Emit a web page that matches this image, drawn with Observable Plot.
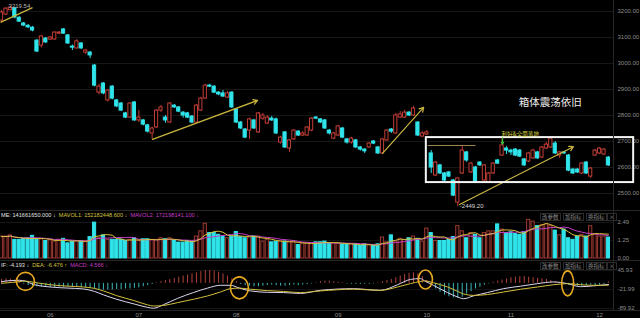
<!DOCTYPE html>
<html><head><meta charset="utf-8">
<script src="https://cdn.jsdelivr.net/npm/d3@7"></script>
<script src="https://cdn.jsdelivr.net/npm/@observablehq/plot@0.6"></script>
<style>
body{margin:0;background:#000;}
#wrap{position:relative;width:640px;height:318px;overflow:hidden;background:#000;font-family:"Liberation Sans",Arial,sans-serif;}
.panel{position:absolute;left:0;}
.lg{position:absolute;left:1px;font-size:5.6px;white-space:nowrap;line-height:7px;}
.btn{position:absolute;font-family:"Noto Sans CJK SC";font-size:5.5px;color:#8a8a8a;border:1px solid #2c2c2c;line-height:6px;padding:0 1px;white-space:nowrap;}
.sep{position:absolute;background:#262626;}
</style></head><body><div id="wrap"></div>
<script>
// ---------- data ----------
const opens = [3165,3188,3205,3212,3176,3154,3145,3138,3088,3069,
3096,3092,3092,3115,3131,3108,3065,3058,3077,3042,
3042,2992,2888,2923,2858,2911,2858,2846,2808,2792,
2850,2781,2781,2762,2731,2754,2819,2792,2773,2838,
2831,2811,2808,2796,2773,2819,2865,2915,2911,2888,
2885,2869,2888,2823,2773,2746,2742,2781,2735,2788,
2769,2788,2785,2696,2735,2673,2708,2738,2723,2723,
2742,2792,2785,2781,2742,2711,2723,2750,2708,2696,
2704,2677,2669,2677,2700,2677,2654,2704,2746,2731,
2792,2792,2811,2800,2773,2719,2727,2654,2569,2608,
2577,2581,2550,2465,2577,2658,2581,2600,2619,2550,
2542,2577,2627,2646,2673,2665,2669,2665,2631,2623,
2635,2658,2638,2673,2677,2692,2646,2658,2646,2592,
2592,2577,2619,2565,2646,2654,2650,2638];
const highs = [3204,3215,3219.54,3216,3180,3158,3150,3142,3092,3108,
3100,3104,3122,3123,3134,3111,3071,3092,3080,3054,
3046,2996,2920,2927,2900,2915,2862,2850,2812,2850,
2854,2819,2785,2766,2755,2823,2838,2800,2850,2842,
2834,2815,2812,2800,2842,2870,2920,2920,2915,2892,
2896,2892,2892,2827,2777,2750,2790,2785,2812,2808,
2800,2796,2790,2720,2738,2708,2746,2742,2738,2758,
2792,2796,2788,2785,2746,2735,2762,2754,2712,2716,
2708,2681,2673,2696,2704,2681,2712,2746,2750,2808,
2815,2820,2815,2835,2777,2738,2742,2665,2623,2612,
2581,2585,2554,2562,2685,2662,2620,2604,2623,2612,
2581,2619,2631,2711,2680,2670,2673,2669,2635,2658,
2670,2662,2681,2696,2716,2700,2662,2662,2650,2596,
2596,2619,2623,2600,2670,2677,2673,2642];
const lows = [3157,3184,3203,3172,3158,3142,3134,3122,3042,3060,
3077,3088,3090,3111,3112,3073,3050,3055,3054,3035,
3019,2910,2880,2880,2852,2860,2830,2815,2788,2788,
2777,2773,2760,2733,2708,2750,2812,2770,2770,2827,
2811,2790,2788,2768,2770,2815,2862,2907,2884,2876,
2869,2865,2827,2769,2746,2711,2708,2746,2731,2781,
2765,2777,2727,2690,2673,2658,2704,2719,2719,2719,
2738,2784,2769,2746,2725,2707,2719,2711,2690,2690,
2673,2663,2654,2673,2688,2650,2650,2700,2731,2727,
2788,2788,2796,2796,2719,2715,2723,2577,2565,2573,
2546,2561,2488,2449.2,2573,2620,2577,2538,2604,2546,
2538,2573,2612,2642,2650,2646,2642,2638,2604,2619,
2631,2631,2635,2669,2673,2650,2635,2650,2584,2573,
2577,2573,2573,2558,2642,2650,2646,2604];
const closes = [3196,3211,3215,3177,3161,3146,3139,3127,3046,3104,
3081,3100,3119,3119,3115,3077,3061,3085,3058,3050,
3031,2915,2911,2885,2896,2865,2835,2819,2792,2846,
2781,2792,2765,2738,2750,2819,2831,2781,2846,2831,
2815,2800,2792,2773,2838,2865,2915,2911,2888,2881,
2873,2885,2831,2773,2750,2715,2785,2750,2808,2800,
2792,2781,2731,2715,2677,2704,2742,2723,2731,2754,
2788,2788,2773,2750,2731,2731,2758,2715,2696,2711,
2677,2669,2662,2692,2692,2654,2708,2742,2738,2800,
2804,2811,2800,2827,2723,2731,2735,2600,2619,2577,
2550,2565,2492,2558,2665,2627,2615,2542,2608,2608,
2577,2615,2615,2685,2665,2658,2646,2642,2608,2654,
2665,2635,2677,2688,2711,2654,2658,2654,2588,2577,
2581,2615,2577,2596,2665,2673,2669,2608];
// volume, in units of 1e8
const volumes = [1.52,1.52,1.60,1.29,1.29,1.36,1.40,1.57,1.29,1.33,
1.21,1.26,1.17,1.29,1.36,1.05,1.17,1.21,1.21,1.21,
1.48,2.48,1.40,1.60,1.29,1.29,1.29,1.29,1.21,1.29,
1.40,1.21,1.33,1.33,1.29,1.29,1.40,1.33,1.40,1.21,
1.10,1.10,1.21,1.17,1.52,1.88,2.40,1.76,1.76,1.64,
1.52,1.40,1.52,1.83,1.48,1.40,1.45,1.52,1.52,1.17,
1.29,1.12,1.17,1.21,1.17,1.12,1.12,0.93,1.05,1.05,
1.05,1.12,1.12,1.17,1.05,1.05,1.05,0.98,0.98,0.98,
0.98,0.88,0.98,0.93,0.88,0.98,1.45,1.12,1.60,1.17,
1.36,1.29,1.40,1.52,1.36,1.17,2.07,1.76,1.21,1.21,
1.21,1.29,1.48,2.24,1.88,1.40,1.76,1.64,1.40,1.76,
1.88,1.88,2.36,2.00,1.76,1.81,1.69,1.64,1.83,2.67,
2.55,2.24,2.31,2.36,2.24,1.93,1.60,2.00,1.40,1.29,
1.52,1.64,1.52,2.24,1.69,1.52,1.52,1.45];
const macdHist = [14,16,15,12,6,-3,
-8,-10,-12,-13,-14,-15,-15,-14,-14,-13,-13,-13,-14,-16,-18,-20,-22,-24,-24,-24,-22,-22,-20,-20,-18,-16,-12,-8,
-4,2,6,10,14,18,22,26,30,34,38,42,46,46,44,40,34,26,16,6,
-4,-8,-10,-12,-12,-10,-8,-6,-8,-10,-10,-8,-6,-8,-6,-4,-2,2,
6,8,8,6,4,2,-2,-3,-4,
-4,-3,-3,-2,2,
6,10,14,20,26,32,36,38,34,24,
10,-8,-20,-32,-42,-48,-52,-54,-50,-38,-30,-20,-14,-6,-2,
4,8,12,16,20,22,24,24,22,20,18,16,14,10,6,
2,-2,-6,-8,-10,-10,-8,-6,-8,-6,-4,4.57];
const lineIdx = [0,2,4,5.4,7.2,11,15,18.5,21,23,26,30,33,34.3,36.6,39.7,43.3,46.5,49.4,51.7,53.7,56.2,60,63.7,67.5,72,79.5,85.5,89.4,92.3,94.6,95.5,97.5,100.7,103,104.3,106.5,109.7,113.3,117.2,121,124.6,127.8,130.7,133.6,137];
const difVals = [6,10,11,8,-4,-13,-17,-20,-29,-41,-57,-74,-86,-89,-76,-54,-33,-17,-7,-7,-17,-27,-32,-33,-36,-25,-19,-25,-5,14,17,9,-7,-33,-49,-55,-45,-33,-19,-10,-1,5,-1,-12,-9,-4.19];
const deaVals = [0,3,6,8,4,-5,-10,-13,-18,-27,-44,-62,-77,-81,-79,-69,-57,-45,-31,-19,-17,-21,-26,-29,-33,-27,-21,-25,-13,-1,7,9,2,-13,-29,-38,-43,-40,-31,-21,-13,-5,-1,-5,-7,-6.48];
const priceTicks = [2500,2600,2700,2800,2900,3000,3100,3200];
const volTicks = [0,1.25,2.49];
const macdTicks = [45.93,-21.99,-89.92];
const monthIdx = [11,31,53,76,96,115,135];
const monthLabels = ["06","07","08","09","10","11","12"];
// trend lines [x1, price1, x2, price2] in candle index / price
const trendLines = [[-0.23,3158,7.0,3215]];
const trendArrows = [[34.1,2708,57.8,2858],[86,2654,95.3,2831],[103.4,2458,129.1,2680]];
const levelLine = [96.2,107,2684.6];
const boxRange = [95.9,142.7,2542,2715];
const ellipseIdx = [5.4,53.7,95.7,127.8];
const ellipseVal = [7,-16,14,0];

// ---------- layout ----------
const UP = "#c23e36", DOWN = "#2fe4ea";
const X = {domain:[-0.23,138.15], axis:null};
const baseStyle = {background:"transparent",color:"#8c8c8c",fontSize:"6px",fontFamily:"'Liberation Sans',Arial,sans-serif",overflow:"visible"};
const candles = opens.map((o,i)=>({i,o,h:highs[i],l:lows[i],c:closes[i],up:closes[i]>=o}));
const vols = volumes.map((v,i)=>({i,v,up:candles[i].up}));
const hist = macdHist.map((v,i)=>({i,v}));
const dif = lineIdx.map((x,j)=>({x,y:difVals[j]}));
const dea = lineIdx.map((x,j)=>({x,y:deaVals[j]}));
const fmt2 = d=>d.toFixed(2);

function ellipseSymbol(rx, ry){
  const k=0.5523;
  return {draw(ctx){
    ctx.moveTo(rx,0);
    ctx.bezierCurveTo(rx,ry*k,rx*k,ry,0,ry);
    ctx.bezierCurveTo(-rx*k,ry,-rx,ry*k,-rx,0);
    ctx.bezierCurveTo(-rx,-ry*k,-rx*k,-ry,0,-ry);
    ctx.bezierCurveTo(rx*k,-ry,rx,-ry*k,rx,0);
    ctx.closePath();
  }};
}
const ellipseSize = [[9,9],[9,11],[7,9.5],[6,12.5]];

const main = Plot.plot({
  width:640,height:210,marginTop:0,marginBottom:0,marginLeft:0,marginRight:27,
  x:X,
  y:{domain:[2434.6,3242.3],axis:"right",ticks:priceTicks,tickFormat:fmt2,tickSize:0,tickPadding:4,label:null},
  color:{type:"identity"},
  style:baseStyle,
  marks:[
    Plot.ruleY(priceTicks,{stroke:"#181818"}),
    Plot.ruleX(candles,{x:"i",y1:"l",y2:"h",stroke:d=>d.up?UP:DOWN,strokeWidth:1}),
    Plot.rect(candles,{x1:d=>d.i-0.36,x2:d=>d.i+0.36,y1:d=>Math.min(d.o,d.c),y2:d=>Math.max(d.o,d.c),fill:d=>d.up?"#000":DOWN,stroke:d=>d.up?UP:DOWN,strokeWidth:1}),
    Plot.link(trendLines,{x1:d=>d[0],y1:d=>d[1],x2:d=>d[2],y2:d=>d[3],stroke:"#c9b53e",strokeWidth:1.2}),
    Plot.arrow(trendArrows,{x1:d=>d[0],y1:d=>d[1],x2:d=>d[2],y2:d=>d[3],stroke:"#c9b53e",strokeWidth:1.2,headLength:6}),
    Plot.link([levelLine],{x1:d=>d[0],x2:d=>d[1],y1:d=>d[2],y2:d=>d[2],stroke:"#9c8650",strokeWidth:1}),
    Plot.rect([boxRange],{x1:d=>d[0],x2:d=>d[1],y1:d=>d[2],y2:d=>d[3],fill:"none",stroke:"#f4f4f4",strokeWidth:2}),
    Plot.text(["箱体震荡依旧"],{x:123.9,y:2848,text:d=>d,fill:"#ececec",fontSize:10.5,fontFamily:"Noto Sans CJK SC"}),
    Plot.text(["-2449.20"],{x:103,y:2449.2,text:d=>d,fill:"#d8d8d8",fontSize:6,textAnchor:"start",dx:2,dy:-1}),
    Plot.text(["3219.54"],{x:1.6,y:3222,text:d=>d,fill:"#b8b8b8",fontSize:6,textAnchor:"start"}),
    Plot.text(["利好&全面落地"],{x:112.9,y:2727,text:d=>d,fill:"#d6d040",fontSize:5.6,textAnchor:"start",fontFamily:"Noto Sans CJK SC"}),
    Plot.arrow([[113.1,2714,113.1,2690]],{x1:d=>d[0],y1:d=>d[1],x2:d=>d[2],y2:d=>d[3],stroke:"#3cc83c",strokeWidth:1.2,headLength:3})
  ]
});

const vol = Plot.plot({
  width:640,height:50,marginTop:0,marginBottom:2,marginLeft:0,marginRight:27,
  x:X,
  y:{domain:[0,3.32],axis:"right",ticks:volTicks,tickFormat:fmt2,tickSize:0,tickPadding:4,label:null},
  color:{type:"identity"},
  style:baseStyle,
  marks:[
    Plot.ruleY([1.25,2.49],{stroke:"#161616"}),
    Plot.rect(vols,{x1:d=>d.i-0.36,x2:d=>d.i+0.36,y1:0,y2:"v",fill:d=>d.up?"#140404":DOWN,stroke:d=>d.up?"#9a3a32":DOWN,strokeWidth:1}),
    Plot.lineY(vols,Plot.windowY({k:10,anchor:"end"},{x:"i",y:"v",stroke:"#c63cc8",strokeWidth:1})),
    Plot.lineY(vols,Plot.windowY({k:5,anchor:"end"},{x:"i",y:"v",stroke:"#d6c23e",strokeWidth:1}))
  ]
});

const macd = Plot.plot({
  width:640,height:58,marginTop:0,marginBottom:8,marginLeft:0,marginRight:27,
  x:{domain:[-0.23,138.15],axis:"bottom",ticks:monthIdx,tickFormat:d=>monthLabels[monthIdx.indexOf(d)],tickSize:0,tickPadding:2,label:null},
  y:{domain:[-97.07,81.7],axis:"right",ticks:macdTicks,tickFormat:fmt2,tickSize:0,tickPadding:4,label:null},
  color:{type:"identity"},
  style:baseStyle,
  marks:[
    Plot.ruleY(macdTicks,{stroke:"#141414"}),
    Plot.ruleX(hist,{x:"i",y1:0,y2:"v",stroke:d=>d.v>=0?"#b2423c":"#3cb6b8",strokeWidth:1}),
    Plot.line(dif,{x:"x",y:"y",stroke:"#ddd6f0",strokeWidth:1,curve:"monotone-x"}),
    Plot.line(dea,{x:"x",y:"y",stroke:"#d4c03e",strokeWidth:1,curve:"monotone-x"}),
    ...ellipseIdx.map((x,j)=>Plot.dot([j],{x:()=>x,y:()=>ellipseVal[j],symbol:ellipseSymbol(ellipseSize[j][0],ellipseSize[j][1]),fill:"none",stroke:"#e6a81e",strokeWidth:1.6}))
  ]
});

const wrap = document.getElementById("wrap");
function place(el, top){const d=document.createElement("div");d.className="panel";d.style.top=top+"px";d.appendChild(el);wrap.appendChild(d);}
place(main,0); place(vol,210); place(macd,260);

function sep(l,t,w,h){const d=document.createElement("div");d.className="sep";Object.assign(d.style,{left:l+"px",top:t+"px",width:w+"px",height:h+"px"});wrap.appendChild(d);}
sep(613,0,1,310); sep(0,210,640,1); sep(0,260,640,1); sep(0,310,640,1);

function legend(top, parts){
  const d=document.createElement("div");d.className="lg";d.style.top=top+"px";
  parts.forEach(([t,c],k)=>{const s=document.createElement("span");s.textContent=t;s.style.color=c;if(k)s.style.marginLeft="3px";d.appendChild(s);});
  wrap.appendChild(d);
}
legend(212,[["ME: 141661650.000 ↓","#e0e0e0"],["MAVOL1: 152182448.600 ↓","#d6c23e"],["MAVOL2: 172198141.100 ↓","#c63cc8"]]);
legend(262,[["IF: -4.193 ↓","#e0e0e0"],["DEA: -6.476 ↑","#d6c23e"],["MACD: 4.566 ↓","#c63cc8"]]);

function buttons(top){
  [["改参数",540],["加指标",563],["换指标",586],["×",607]].forEach(([t,l])=>{
    const b=document.createElement("div");b.className="btn";b.textContent=t;b.style.left=l+"px";b.style.top=top+"px";wrap.appendChild(b);
  });
}
buttons(213); buttons(262);
</script></body></html>
